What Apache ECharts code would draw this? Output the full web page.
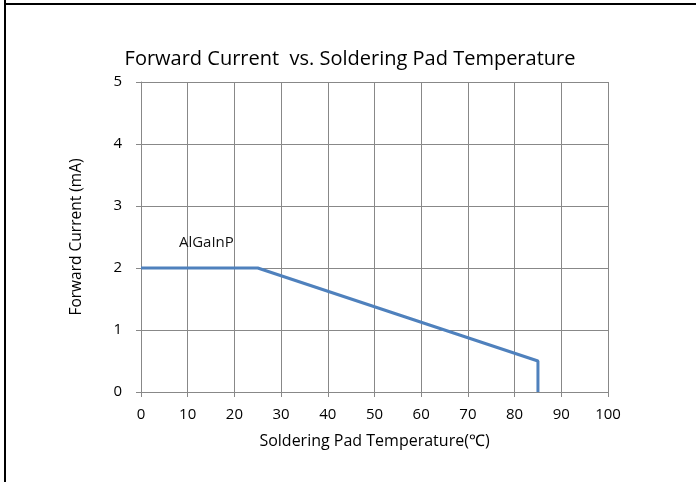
<!DOCTYPE html>
<html>
<head>
<meta charset="utf-8">
<script src="https://cdn.jsdelivr.net/npm/echarts@6/dist/echarts.min.js"></script>
<style>
html,body{margin:0;padding:0;background:#fff;}
#c{width:696px;height:482px;}
</style>
</head>
<body>
<div id="c"></div>
<script>
const titleText = 'Forward Current  vs. Soldering Pad Temperature';
const xName = 'Soldering Pad Temperature(\u2103)';
const yName = 'Forward Current (mA)';
const seriesName = 'AlGaInP';
const temps = [0, 25, 85, 85];
const currents = [2, 2, 0.5, 0];
const labelPoint = [14, 2.4];

const chart = echarts.init(document.getElementById('c'));
const font = '"Open Sans", "Liberation Sans", sans-serif';
chart.setOption({
  animation: false,
  graphic: [
    {type: 'rect', shape: {x: 4, y: 0, width: 2, height: 482}, style: {fill: '#000'}},
    {type: 'rect', shape: {x: 4, y: 3, width: 692, height: 2}, style: {fill: '#000'}}
  ],
  title: {
    text: titleText, left: 345, top: 44, textAlign: 'center',
    textStyle: {fontFamily: font, fontSize: 20, fontWeight: 'normal', color: '#000'}
  },
  grid: {left: 141, right: 88, top: 82, bottom: 90},
  xAxis: {
    type: 'value', min: 0, max: 100, interval: 10,
    name: xName, nameLocation: 'middle', nameGap: 41,
    nameTextStyle: {fontFamily: font, fontSize: 16, color: '#000'},
    axisLine: {show: true, lineStyle: {color: '#888', width: 1}},
    axisTick: {show: true, length: 5, lineStyle: {color: '#888'}},
    axisLabel: {fontFamily: font, fontSize: 15, color: '#000', margin: 15},
    splitLine: {show: true, lineStyle: {color: '#888', width: 1}}
  },
  yAxis: {
    type: 'value', min: 0, max: 5, interval: 1,
    name: yName, nameLocation: 'middle', nameGap: 56,
    nameTextStyle: {fontFamily: font, fontSize: 15.5, color: '#000'},
    axisLine: {show: true, lineStyle: {color: '#888', width: 1}},
    axisTick: {show: true, length: 5, lineStyle: {color: '#888'}},
    axisLabel: {fontFamily: font, fontSize: 15, color: '#000', margin: 19},
    splitLine: {show: true, lineStyle: {color: '#888', width: 1}}
  },
  series: [{
    name: seriesName, type: 'line',
    data: temps.map((t, i) => [t, currents[i]]),
    showSymbol: false, symbol: 'none',
    lineStyle: {color: '#4F81BD', width: 3},
    markPoint: {
      symbol: 'circle', symbolSize: 0,
      data: [{coord: labelPoint, value: seriesName}],
      label: {show: true, formatter: seriesName, fontFamily: font, fontSize: 15, color: '#111', position: 'inside'}
    }
  }]
});
</script>
</body>
</html>
